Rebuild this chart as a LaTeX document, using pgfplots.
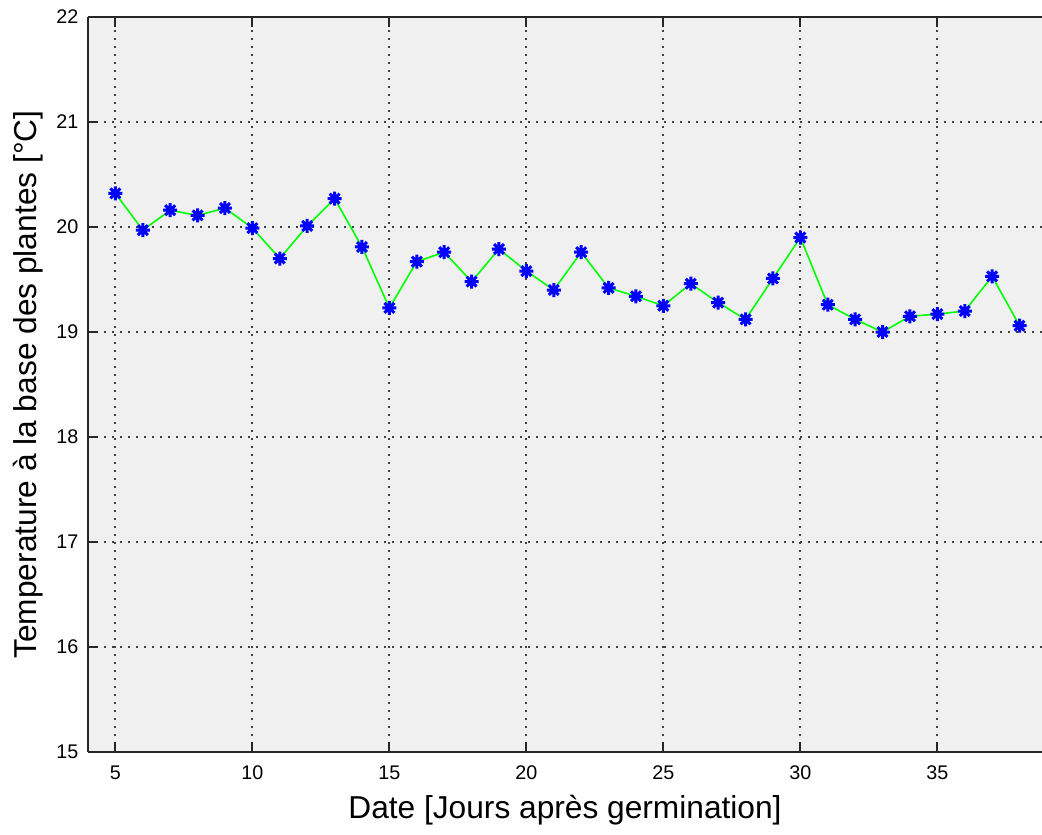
\documentclass[border=0pt]{standalone}
\usepackage{pgfplots}
\pgfplotsset{compat=1.18}
\usepackage{fontspec}
\setmainfont{Liberation Sans}

% MATLAB-style eight-armed asterisk
\pgfdeclareplotmark{mstar}{%
  \pgfpathmoveto{\pgfqpoint{-\pgfplotmarksize}{0pt}}%
  \pgfpathlineto{\pgfqpoint{\pgfplotmarksize}{0pt}}%
  \pgfpathmoveto{\pgfqpoint{0pt}{-\pgfplotmarksize}}%
  \pgfpathlineto{\pgfqpoint{0pt}{\pgfplotmarksize}}%
  \pgfpathmoveto{\pgfqpoint{-0.707\pgfplotmarksize}{-0.707\pgfplotmarksize}}%
  \pgfpathlineto{\pgfqpoint{0.707\pgfplotmarksize}{0.707\pgfplotmarksize}}%
  \pgfpathmoveto{\pgfqpoint{-0.707\pgfplotmarksize}{0.707\pgfplotmarksize}}%
  \pgfpathlineto{\pgfqpoint{0.707\pgfplotmarksize}{-0.707\pgfplotmarksize}}%
  \pgfusepathqstroke}

\definecolor{axbg}{RGB}{240,240,240}
\definecolor{axline}{RGB}{38,38,38}

\begin{document}
\begin{tikzpicture}
\begin{axis}[
  name=ax,
  scale only axis,
  width=477bp, height=367.5bp,
  xmin=4, xmax=38.82,
  ymin=15, ymax=22,
  xtick={5,10,...,35},
  ytick={15,16,...,22},
  axis y line*=left,
  axis x line*=box,
  axis line style={axline, line width=1bp},
  tick style={axline, line width=1bp},
  tick align=inside,
  major tick length=5bp,
  axis background/.style={fill=axbg},
  grid=major,
  major grid style={black!75, line width=1bp, dash pattern=on 1bp off 3bp},
  /pgf/number format/assume math mode=true,
  tick label style={font=\fontsize{9.9}{11.9}\selectfont},
  xticklabel style={yshift=-3.3bp},
  yticklabel style={xshift=-1.3bp},
  label style={font=\fontsize{15.9}{19}\selectfont},
  xlabel={Date [Jours après germination]},
  ylabel={Temperature à la base des plantes [°C]},
  xlabel style={at={(axis description cs:0.5,-0.0789)}, anchor=center},
  ylabel style={at={(axis description cs:-0.0629,0.5)}, anchor=center},
  clip=true,
]
\addplot[color=green, line width=0.8bp,
         mark=mstar, mark size=3.5bp,
         mark options={blue, line width=1.5bp}] coordinates {
  (5,20.32) (6,19.97) (7,20.16) (8,20.11) (9,20.18) (10,19.99)
  (11,19.70) (12,20.01) (13,20.27) (14,19.81) (15,19.23) (16,19.67)
  (17,19.76) (18,19.48) (19,19.79) (20,19.58) (21,19.40) (22,19.76)
  (23,19.42) (24,19.34) (25,19.25) (26,19.46) (27,19.28) (28,19.12)
  (29,19.51) (30,19.90) (31,19.26) (32,19.12) (33,19.00) (34,19.15)
  (35,19.17) (36,19.20) (37,19.53) (38,19.06)
};
\end{axis}
\pgfresetboundingbox
\path[use as bounding box] ([xshift=-44bp,yshift=-41.5bp]ax.south west)
  rectangle ([yshift=8.5bp]ax.north east);
\end{tikzpicture}
\end{document}
